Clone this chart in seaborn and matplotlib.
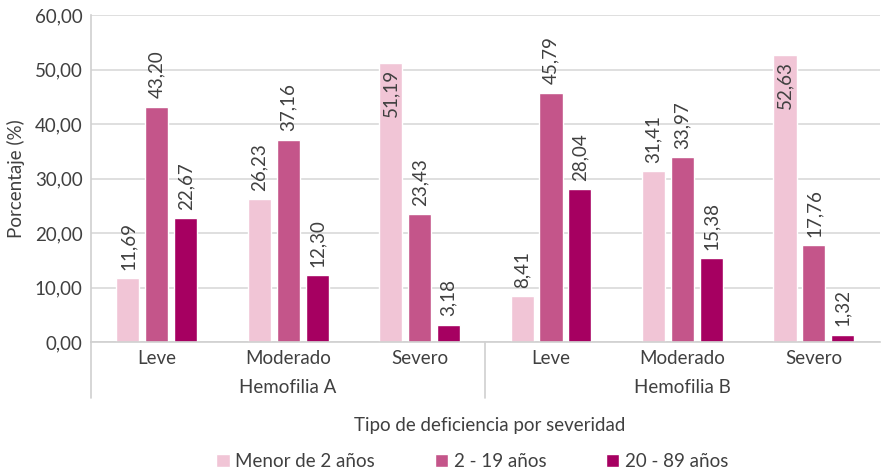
import matplotlib
matplotlib.use("Agg")
from matplotlib import pyplot as plt
from matplotlib import transforms
import seaborn as sns
import pandas as pd

# datos
grupos = ["Hemofilia A", "Hemofilia B"]
severidad = ["Leve", "Moderado", "Severo"]
edades = ["Menor de 2 años", "2 - 19 años", "20 - 89 años"]
menor_2 = [11.69, 26.23, 51.19, 8.41, 31.41, 52.63]
de_2_19 = [43.20, 37.16, 23.43, 45.79, 33.97, 17.76]
de_20_89 = [22.67, 12.30, 3.18, 28.04, 15.38, 1.32]
colores = ["#F1C5D6", "#C4558A", "#A60061"]

categorias = [g + " " + s for g in grupos for s in severidad]
filas = []
for serie, valores in zip(edades, [menor_2, de_2_19, de_20_89]):
    for cat, v in zip(categorias, valores):
        filas.append({"categoria": cat, "edad": serie, "valor": v})
df = pd.DataFrame(filas)

sns.set_style("white")
plt.rcParams['font.family'] = ['Lato', 'DejaVu Sans']
texto = "#404040"
fs = 13.5

fig = plt.figure(figsize=(8.88, 4.73), dpi=100)
ax = fig.add_axes([0.1025, 0.277, 0.888, 0.691])

sns.barplot(data=df, x="categoria", y="valor", hue="edad", order=categorias,
            hue_order=edades, palette=colores, width=0.66, gap=0.2,
            saturation=1, ax=ax, legend=True)

ax.set_ylim(0, 60)
ax.set_xlim(-0.5, 5.5)
ax.set_yticks(range(0, 61, 10))
ax.set_yticklabels([f"{v:.2f}".replace(".", ",") for v in range(0, 61, 10)],
                   fontsize=fs, color=texto)
ax.set_xticks(range(6))
ax.set_xticklabels(severidad * 2, fontsize=fs, color=texto)
ax.tick_params(axis="both", length=0, pad=6)
ax.yaxis.grid(True, color="#D9D9D9", linewidth=1.2)
ax.set_axisbelow(True)
for lado in ["top", "right"]:
    ax.spines[lado].set_visible(False)
for lado in ["left", "bottom"]:
    ax.spines[lado].set_color("#D0D0D0")
    ax.spines[lado].set_linewidth(1.2)

ax.set_xlabel("")
ax.set_ylabel("Porcentaje (%)", fontsize=fs, color=texto, labelpad=7)

# etiquetas de datos
for cont in ax.containers:
    for barra in cont:
        h = barra.get_height()
        xc = barra.get_x() + barra.get_width() / 2
        etiqueta = f"{h:.2f}".replace(".", ",")
        if h > 50:
            ax.annotate(etiqueta, (xc, h), xytext=(0, -4), textcoords="offset points",
                        rotation=90, ha="center", va="top", fontsize=fs, color=texto)
        else:
            ax.annotate(etiqueta, (xc, h), xytext=(0, 6), textcoords="offset points",
                        rotation=90, ha="center", va="bottom", fontsize=fs, color=texto)

# grupos y separadores
trans = transforms.blended_transform_factory(ax.transData, ax.transAxes)
for i, g in enumerate(grupos):
    ax.text(1 + 3 * i, -0.138, g, transform=trans, ha="center", va="center",
            fontsize=fs, color=texto)
for xs in [-0.5, 2.5]:
    ax.plot([xs, xs], [0, -0.171], transform=trans, color="#D0D0D0",
            linewidth=1.2, clip_on=False)

fig.text(0.552, 0.1, "Tipo de deficiencia por severidad", ha="center", va="center",
         fontsize=fs, color=texto)

ax.get_legend().remove()
handles, labels = ax.get_legend_handles_labels()
fig.legend(handles[:3], labels[:3], loc="center", bbox_to_anchor=(0.532, 0.025),
           ncol=3, frameon=False, fontsize=fs, handlelength=0.7, handleheight=0.7,
           handletextpad=0.3, columnspacing=3.2, labelcolor=texto)

fig.savefig("out.png", dpi=100)
